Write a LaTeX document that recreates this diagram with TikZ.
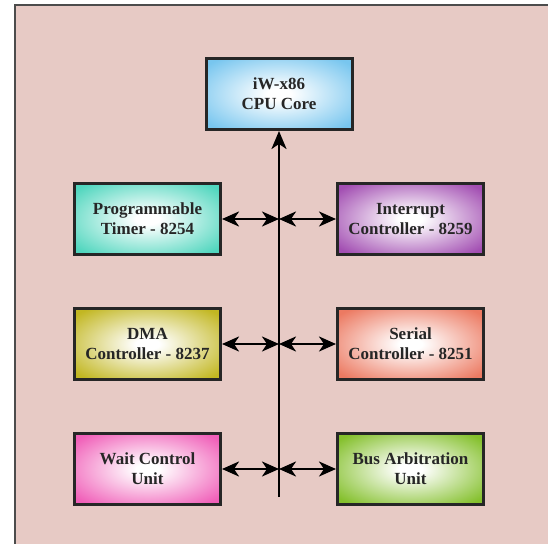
\documentclass[tikz,border=0pt]{standalone}
\usepackage{fontspec}
\setmainfont{Liberation Serif}
\usetikzlibrary{arrows.meta}
\definecolor{bgpink}{HTML}{E7CAC5}
\definecolor{cpublue}{HTML}{78C6EF}
\definecolor{timerteal}{HTML}{50D6BE}
\definecolor{intpurple}{HTML}{A24EB2}
\definecolor{dmaolive}{HTML}{C2B722}
\definecolor{serialred}{HTML}{EC7A62}
\definecolor{waitpink}{HTML}{F05EB8}
\definecolor{busgreen}{HTML}{84C02C}
\colorlet{glowc}{white}
\pgfdeclareradialshading[glowc]{glow}{\pgfpoint{0bp}{0bp}}{color(0bp)=(white); color(4bp)=(white); color(32bp)=(glowc); color(50bp)=(glowc)}
\begin{document}
\begin{tikzpicture}[x=1bp,y=-1bp,
		unit/.style={draw=black!85,line width=3bp,minimum width=146bp,minimum height=71bp,
			align=center,font=\fontsize{17bp}{20bp}\selectfont\bfseries,text=black!85,
			shading=glow,/utils/exec={\colorlet{glowc}{#1}}},
		link/.style={line width=2.5bp,{Stealth[length=17bp,width=15bp,inset=5bp]}-{Stealth[length=17bp,width=15bp,inset=5bp]}}]
				\useasboundingbox (0,0) rectangle (548,544);
				\clip (0,0) rectangle (548,544);
				% background panel
				\fill[bgpink] (15,5) rectangle (560,560);
				\draw[black!70,line width=1.5bp] (15,560) -- (15,5) -- (560,5);
				% blocks
				\node[unit=cpublue] (cpu) at (279,94) {iW-x86\\CPU Core};
				\node[unit=timerteal] (timer) at (147.5,219) {Programmable\\Timer - 8254};
				\node[unit=intpurple] (intr) at (410.5,219) {Interrupt\\Controller - 8259};
				\node[unit=dmaolive] (dma) at (147.5,344) {DMA\\Controller - 8237};
				\node[unit=serialred] (serial) at (410.5,344) {Serial\\Controller - 8251};
				\node[unit=waitpink] (wait) at (147.5,469) {Wait Control\\Unit};
				\node[unit=busgreen] (busarb) at (410.5,469) {Bus Arbitration\\Unit};
				% internal bus
				\coordinate (busend) at (279,497);
				\draw[line width=2.5bp,-{Stealth[length=18bp,width=15bp,inset=5bp]}] (busend) -- (cpu.south);
				\foreach \n in {timer,dma,wait}
					\draw[link] (\n.east) -- (\n.east -| busend);
				\foreach \n in {intr,serial,busarb}
					\draw[link] (\n.west -| busend) -- (\n.west);
			\end{tikzpicture}
\end{document}
